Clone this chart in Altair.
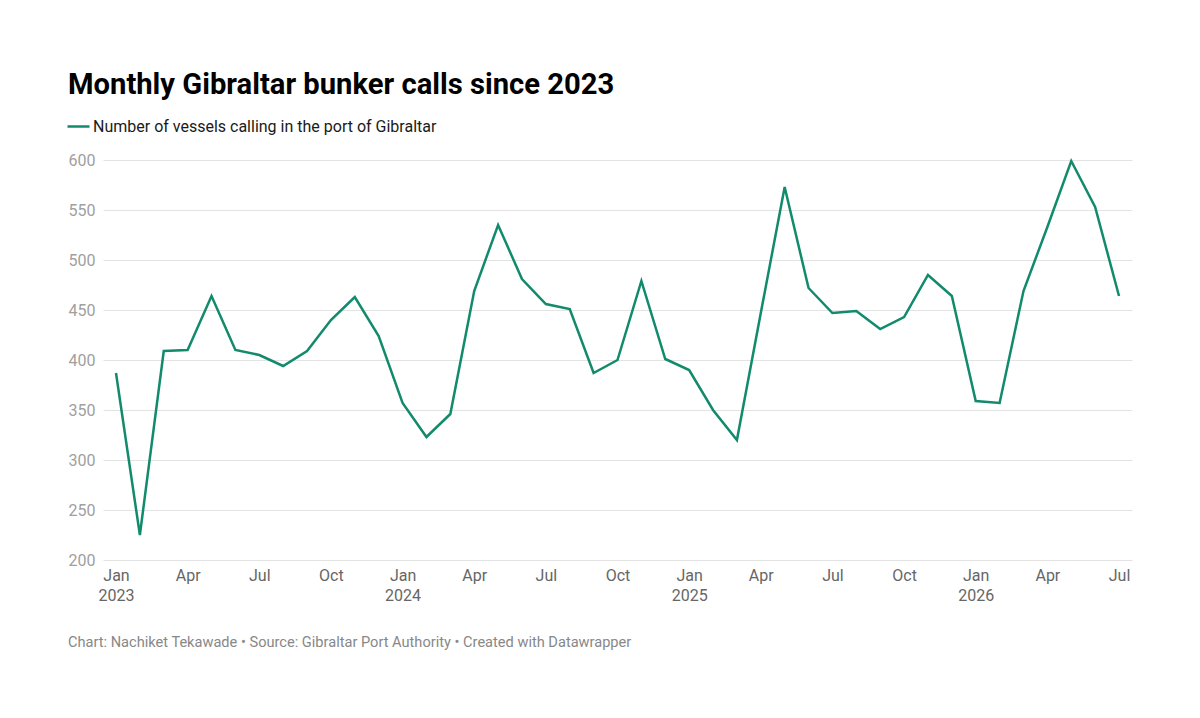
import json
import altair as alt
import pandas as pd

# monthly bunker calls, Jan 2023 .. Jul 2026
months = pd.date_range("2023-01-01", "2026-07-01", freq="MS").strftime("%Y-%m").tolist()
calls = [387, 225, 409, 410, 464, 410, 405, 394, 409, 440, 463, 424,
         357, 323, 346, 469, 535, 481, 456, 451, 387, 400, 479, 401,
         390, 350, 320, 447, 573, 472, 447, 449, 431, 443, 485, 464,
         359, 357, 469, 533, 599, 553, 464]
series = "Number of vessels calling in the port of Gibraltar"

tick_values = list(range(0, 43, 3))
tick_labels = []
for i in tick_values:
    y, m = months[i].split("-")
    name = ["Jan", "Apr", "Jul", "Oct"][(int(m) - 1) // 3]
    tick_labels.append([name, y] if m == "01" else name)

y_ticks = [200, 250, 300, 350, 400, 450, 500, 550, 600]

title = "Monthly Gibraltar bunker calls since 2023"
footer = "Chart: Nachiket Tekawade • Source: Gibraltar Port Authority • Created with Datawrapper"

df = pd.DataFrame({"idx": range(len(months)), "month": months, "calls": calls, "series": series})

FONT = "Roboto"
GREEN = "#128a6c"

line = alt.Chart(df).mark_line(strokeWidth=2.5).encode(
    x=alt.X("idx:Q", title=None,
            scale=alt.Scale(domain=[-0.544, 42.544], nice=False, zero=False),
            axis=alt.Axis(values=tick_values,
                          labelExpr=f"{json.dumps(tick_labels)}[datum.value / 3]",
                          grid=False, domain=False, ticks=False,
                          labelColor="#666666", labelFontSize=16,
                          labelLineHeight=20, labelPadding=7, labelFlush=False)),
    y=alt.Y("calls:Q", title=None,
            scale=alt.Scale(domain=[200, 600], nice=False, zero=False),
            axis=alt.Axis(values=y_ticks, grid=True, gridColor="#e3e3e3",
                          domain=False, ticks=False, labelColor="#a0a0a0",
                          labelFontSize=16, labelPadding=8)),
    color=alt.Color("series:N", scale=alt.Scale(range=[GREEN]),
                    legend=alt.Legend(title=None, orient="none", legendX=-37, legendY=-46,
                                      symbolType="stroke", symbolStrokeWidth=2.5,
                                      symbolSize=484, labelFontSize=16,
                                      labelColor="#1a1a1a", labelOffset=2,
                                      labelLimit=600)),
    tooltip=["month:N", "calls:Q"]
)

source = alt.Chart(pd.DataFrame({"text": [footer]})).mark_text(
    align="left", baseline="alphabetic", fontSize=14.6, color="#888888", font=FONT
).encode(x=alt.value(-35), y=alt.value(487), text="text:N")

chart = alt.layer(line, source).properties(
    width=1029,
    height=400,
    padding={"left": 95, "top": 152, "right": 60, "bottom": 100},
    autosize=alt.AutoSizeParams(type="none"),
    title=alt.TitleParams(title, anchor="start", fontSize=29.2, fontWeight="bold",
                          font=FONT, color="#000000", offset=14, dx=2),
).configure(
    font=FONT
).configure_view(
    stroke=None
)

chart.save("out.html", embed_options={"renderer": "svg", "actions": False})
